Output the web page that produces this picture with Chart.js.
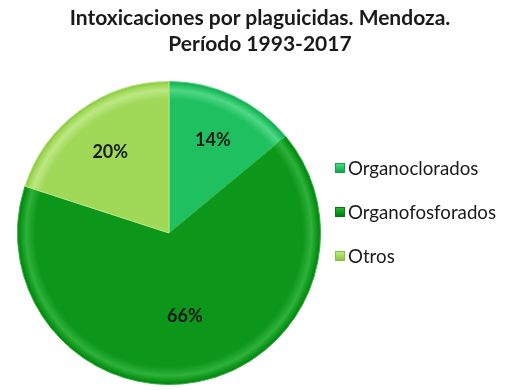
<!DOCTYPE html>
<html>
<head>
<meta charset="utf-8">
<title>Intoxicaciones por plaguicidas</title>
<script src="https://cdn.jsdelivr.net/npm/chart.js@4"></script>
<style>
  html, body { margin: 0; background: #fff; }
  #contenedor { position: relative; width: 529px; height: 390px; }
  #titulo { position: absolute; left: 0; width: 520px; top: 4px; margin: 0; text-align: center;
            font-family: Lato, "Open Sans", sans-serif; font-size: 21px; font-weight: bold;
            line-height: 26px; color: #1a1a1a; }
  #leyenda { position: absolute; left: 335px; top: 156px; margin: 0; padding: 0; list-style: none;
             font-family: Lato, "Open Sans", sans-serif; font-size: 18.7px; color: #1a1a1a; }
  #leyenda li { display: flex; align-items: center; height: 24px; margin-bottom: 20px; }
  #leyenda span.caja { width: 10px; height: 10px; margin-right: 3px; box-sizing: border-box; }
</style>
</head>
<body>
<div id="contenedor">
  <canvas id="grafico" width="529" height="390"></canvas>
  <h1 id="titulo"></h1>
  <ul id="leyenda"></ul>
</div>
<script>
// ===== Datos =====
const categorias = ["Organoclorados", "Organofosforados", "Otros"];
const porcentajes = [14, 66, 20];
const titulo = ["Intoxicaciones por plaguicidas. Mendoza.", "Período 1993-2017"];

// colores de cada porción: base, borde claro, borde exterior oscuro
const colores = ["#1fc060", "#0c961a", "#9fd957"];
const claros = ["#4fd785", "#2fb13a", "#bde884"];
const oscuros = ["#16a04c", "#077a0f", "#86c23f"];

// relleno con un leve bisel en el borde exterior
function relleno(c) {
  const i = c.dataIndex;
  const area = c.chart.chartArea;
  if (!area) return colores[i];
  const cx = (area.left + area.right) / 2;
  const cy = (area.top + area.bottom) / 2;
  const r = Math.min(area.width, area.height) / 2;
  const g = c.chart.ctx.createRadialGradient(cx, cy, 0, cx, cy, r);
  g.addColorStop(0, colores[i]);
  g.addColorStop(0.88, colores[i]);
  g.addColorStop(0.94, claros[i]);
  g.addColorStop(0.975, colores[i]);
  g.addColorStop(1, oscuros[i]);
  return g;
}

// porcentajes dentro de cada porción
const etiquetas = {
  id: "etiquetas",
  afterDatasetsDraw(chart, args, opts) {
    const ctx = chart.ctx;
    const meta = chart.getDatasetMeta(0);
    ctx.save();
    ctx.font = "bold 18px Lato, 'Open Sans', sans-serif";
    ctx.fillStyle = "#1a1a1a";
    ctx.textAlign = "center";
    ctx.textBaseline = "middle";
    meta.data.forEach((arc, i) => {
      const p = arc.getProps(["x", "y", "startAngle", "endAngle", "outerRadius"]);
      const a = (p.startAngle + p.endAngle) / 2;
      const r = p.outerRadius * opts.radios[i];
      ctx.fillText(porcentajes[i] + "%", p.x + Math.cos(a) * r, p.y + Math.sin(a) * r);
    });
    ctx.restore();
  }
};

const grafico = new Chart(document.getElementById("grafico"), {
  type: "pie",
  data: {
    labels: categorias,
    datasets: [{
      data: porcentajes,
      backgroundColor: relleno,
      borderColor: (c) => claros[c.dataIndex],
      borderWidth: 1
    }]
  },
  options: {
    responsive: false,
    animation: false,
    layout: { padding: { left: 17, right: 208, top: 81, bottom: 5 } },
    plugins: {
      legend: { display: false },
      tooltip: { enabled: false },
      title: { display: false },
      etiquetas: { radios: [0.68, 0.56, 0.66] }
    }
  },
  plugins: [etiquetas]
});

// ===== Título y leyenda =====
document.getElementById("titulo").innerHTML = titulo.join("<br>");

const leyenda = document.getElementById("leyenda");
grafico.options.plugins.legend.labels.generateLabels(grafico).forEach((item, i) => {
  const li = document.createElement("li");
  li.innerHTML = `<span class="caja" style="background:linear-gradient(${claros[i]}, ${colores[i]} 60%, ${oscuros[i]});border:1px solid ${oscuros[i]}"></span>${item.text}`;
  leyenda.appendChild(li);
});
</script>
</body>
</html>
